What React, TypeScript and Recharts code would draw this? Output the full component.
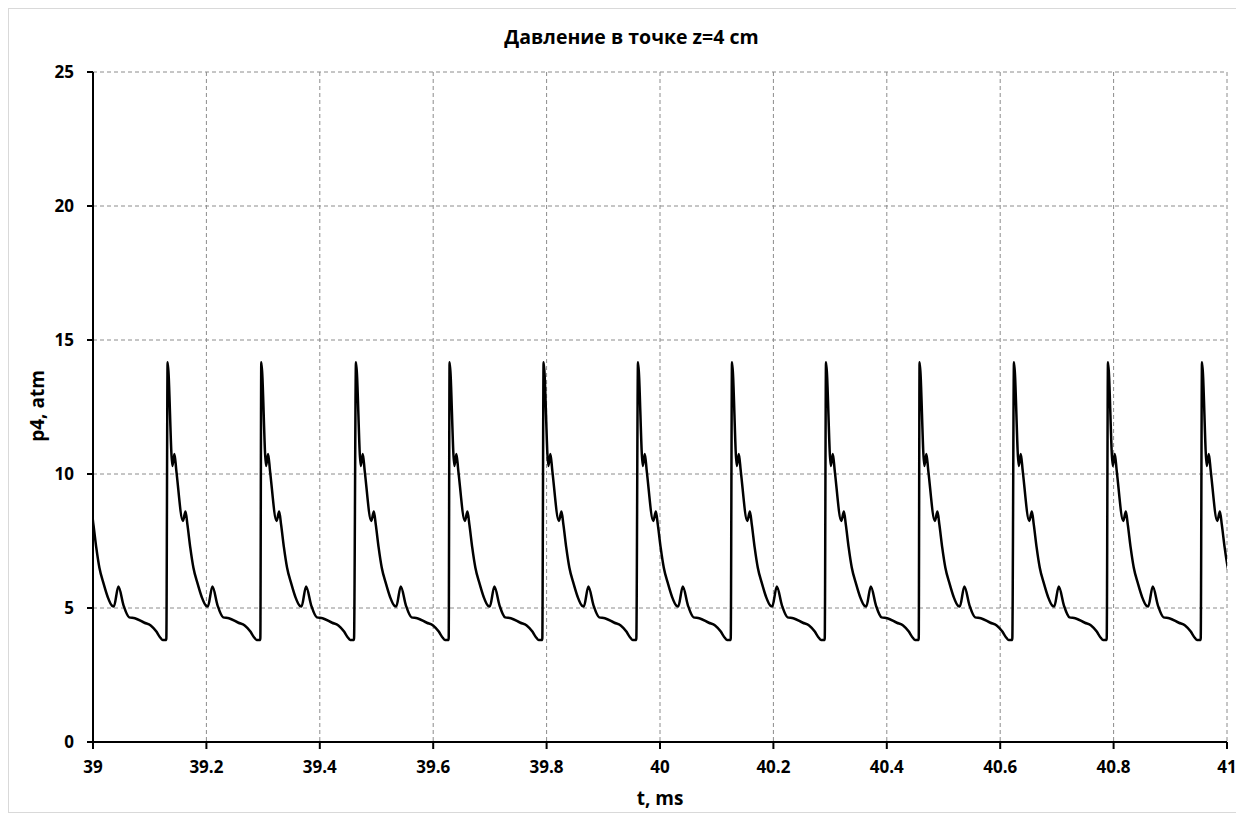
import { LineChart, Line, XAxis, YAxis, CartesianGrid } from 'recharts';

// one pulse: time after the spike (ms) and pressure (atm)
const cycleDt = [0, 0.0085, 0.012, 0.0155, 0.027, 0.0315, 0.035, 0.04, 0.0455, 0.053, 0.06, 0.068, 0.071, 0.079, 0.088, 0.098, 0.108, 0.125, 0.136, 0.146, 0.152, 0.157, 0.1635];
const cyclePressure = [14.17, 10.3, 10.75, 10.1, 8.25, 8.6, 8.1, 7.25, 6.5, 5.9, 5.42, 5.08, 5.06, 5.8, 5.1, 4.65, 4.62, 4.45, 4.35, 4.12, 3.92, 3.81, 3.81];

// spike times (ms), the first one is just left of the visible range
const peakTimes = [38.9658, 39.1316, 39.2968, 39.4638, 39.6289, 39.7947, 39.9612, 40.127, 40.2928, 40.4578, 40.6243, 40.7901, 40.9559];

const xTicks = [39, 39.2, 39.4, 39.6, 39.8, 40, 40.2, 40.4, 40.6, 40.8, 41];
const yTicks = [0, 5, 10, 15, 20, 25];

const data = peakTimes.flatMap((t0) =>
  cycleDt.map((dt, i) => ({ t: t0 + dt, p: cyclePressure[i] }))
);

const font = '"Open Sans", sans-serif';
const tickStyle = { fontFamily: font, fontSize: 17, fontWeight: 700, fill: '#000' };

export default function App() {
  return (
    <div
      style={{
        position: 'relative',
        width: 1229,
        height: 805,
        border: '1px solid #d9d9d9',
        boxSizing: 'border-box',
        background: '#fff',
        fontFamily: font,
      }}
    >
      <div
        style={{
          position: 'absolute',
          top: 14,
          left: 0,
          width: 1245,
          textAlign: 'center',
          fontSize: 19.5,
          fontWeight: 700,
        }}
      >
        Давление в точке z=4 cm
      </div>
      <div
        style={{
          position: 'absolute',
          left: 28 - 50,
          top: 398 - 14,
          width: 100,
          textAlign: 'center',
          fontSize: 19,
          fontWeight: 700,
          transform: 'rotate(-90deg)',
        }}
      >
        p4, atm
      </div>
      <div
        style={{
          position: 'absolute',
          left: 0,
          top: 776,
          width: 1302,
          textAlign: 'center',
          fontSize: 19,
          fontWeight: 700,
        }}
      >
        t, ms
      </div>
      <LineChart
        width={1227}
        height={803}
        data={data}
        margin={{ top: 63, right: 9, left: 24, bottom: 32 }}
      >
        <CartesianGrid stroke="#8c8c8c" strokeDasharray="4 3" strokeWidth={1} />
        <XAxis
          dataKey="t"
          type="number"
          domain={[39, 41]}
          ticks={xTicks}
          allowDataOverflow
          tickFormatter={(v: number) => String(Number(v.toFixed(1)))}
          stroke="#000"
          strokeWidth={2}
          tickSize={7}
          tickMargin={12}
          tick={tickStyle}
          height={38}
          interval={0}
        />
        <YAxis
          type="number"
          domain={[0, 25]}
          ticks={yTicks}
          allowDataOverflow
          stroke="#000"
          strokeWidth={2}
          tickSize={6}
          tickMargin={13}
          tick={tickStyle}
          width={60}
          interval={0}
        />
        <Line
          type="monotone"
          dataKey="p"
          stroke="#000"
          strokeWidth={2.5}
          dot={false}
          activeDot={false}
          isAnimationActive={false}
        />
      </LineChart>
    </div>
  );
}
